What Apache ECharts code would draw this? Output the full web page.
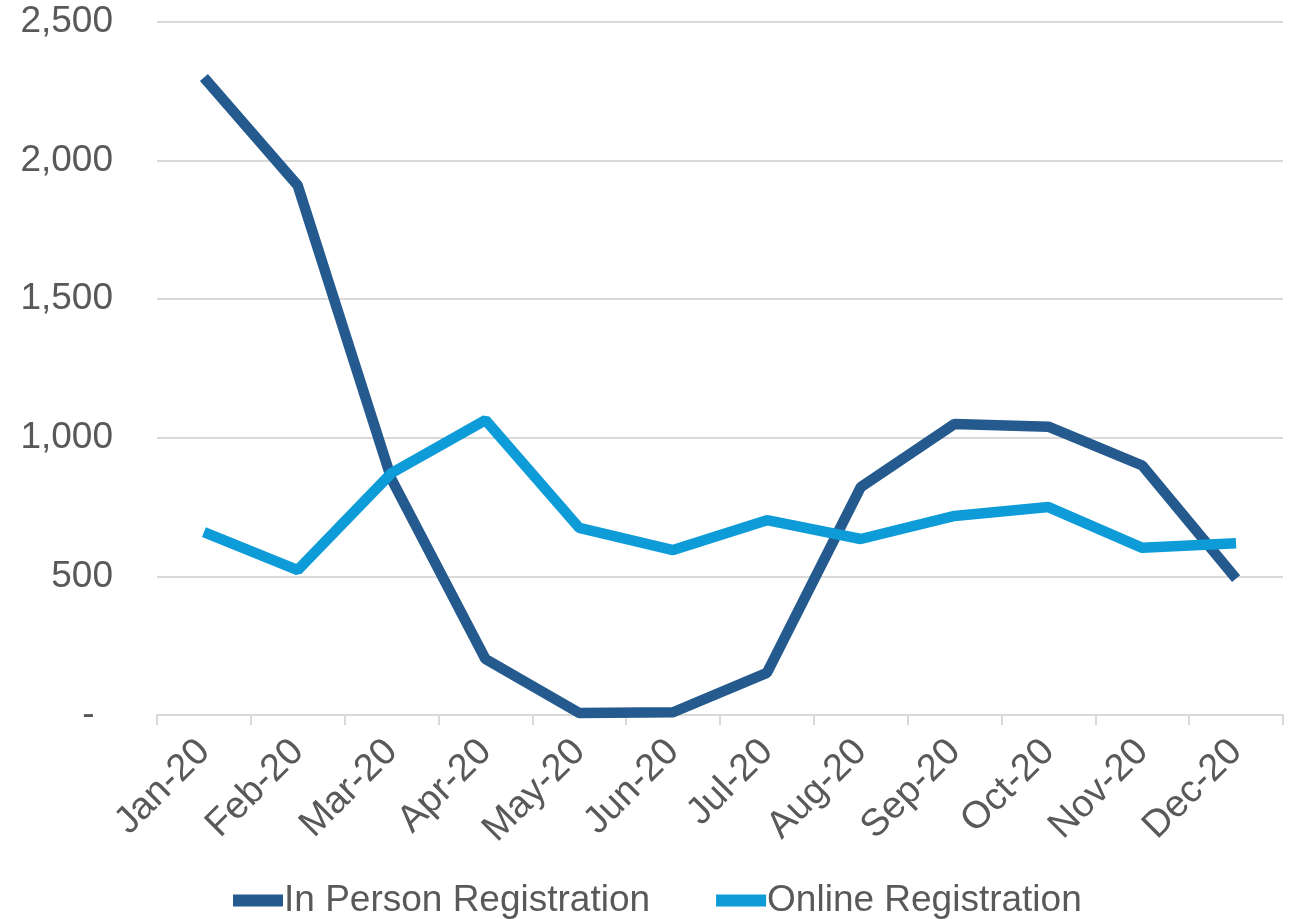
<!DOCTYPE html>
<html>
<head>
<meta charset="utf-8">
<script src="https://cdn.jsdelivr.net/npm/echarts@6/dist/echarts.min.js"></script>
<style>
html,body{margin:0;padding:0;background:#fff;}
#chart{width:1294px;height:919px;}
</style>
</head>
<body>
<div id="chart"></div>
<script>
const categories = ['Jan-20','Feb-20','Mar-20','Apr-20','May-20','Jun-20','Jul-20','Aug-20','Sep-20','Oct-20','Nov-20','Dec-20'];
const inPerson = [2300, 1910, 850, 202, 7, 10, 152, 822, 1050, 1040, 900, 492];
const online = [660, 523, 873, 1064, 675, 595, 703, 635, 718, 750, 603, 620];
const seriesNames = ['In Person Registration', 'Online Registration'];
const yTicks = { min: 0, max: 2500, interval: 500 };

const chart = echarts.init(document.getElementById('chart'));
const font = 'Liberation Sans, Arial, sans-serif';
chart.setOption({
  animation: false,
  backgroundColor: '#ffffff',
  color: ['#255A8E', '#0E9CD8'],
  grid: { left: 157, right: 11, top: 22, bottom: 204 },
  legend: {
    left: 228, top: 877,
    icon: 'rect', itemWidth: 50, itemHeight: 12, itemGap: 66,
    textStyle: { fontFamily: font, fontSize: 37, color: '#595959', padding: [0,0,0,-4] },
    data: seriesNames
  },
  xAxis: {
    type: 'category', data: categories, boundaryGap: true,
    axisLine: { lineStyle: { color: '#d9d9d9', width: 2 } },
    axisTick: { show: true, length: 10, lineStyle: { color: '#d9d9d9', width: 2 } },
    axisLabel: { rotate: 45, margin: 31, fontFamily: font, fontSize: 38, color: '#595959', interval: 0 }
  },
  yAxis: {
    type: 'value', min: yTicks.min, max: yTicks.max, interval: yTicks.interval,
    axisLine: { show: false }, axisTick: { show: false },
    splitLine: { lineStyle: { color: '#d9d9d9', width: 2 } },
    axisLabel: {
      margin: 44, fontFamily: font, fontSize: 37, color: '#595959',
      formatter: v => v === 0 ? '-\u2002' : v.toLocaleString('en-US')
    }
  },
  series: [
    { name: seriesNames[0], type: 'line', data: inPerson, symbol: 'none', lineStyle: { width: 10.5 } },
    { name: seriesNames[1], type: 'line', data: online, symbol: 'none', lineStyle: { width: 10.5 } }
  ]
});
</script>
</body>
</html>
